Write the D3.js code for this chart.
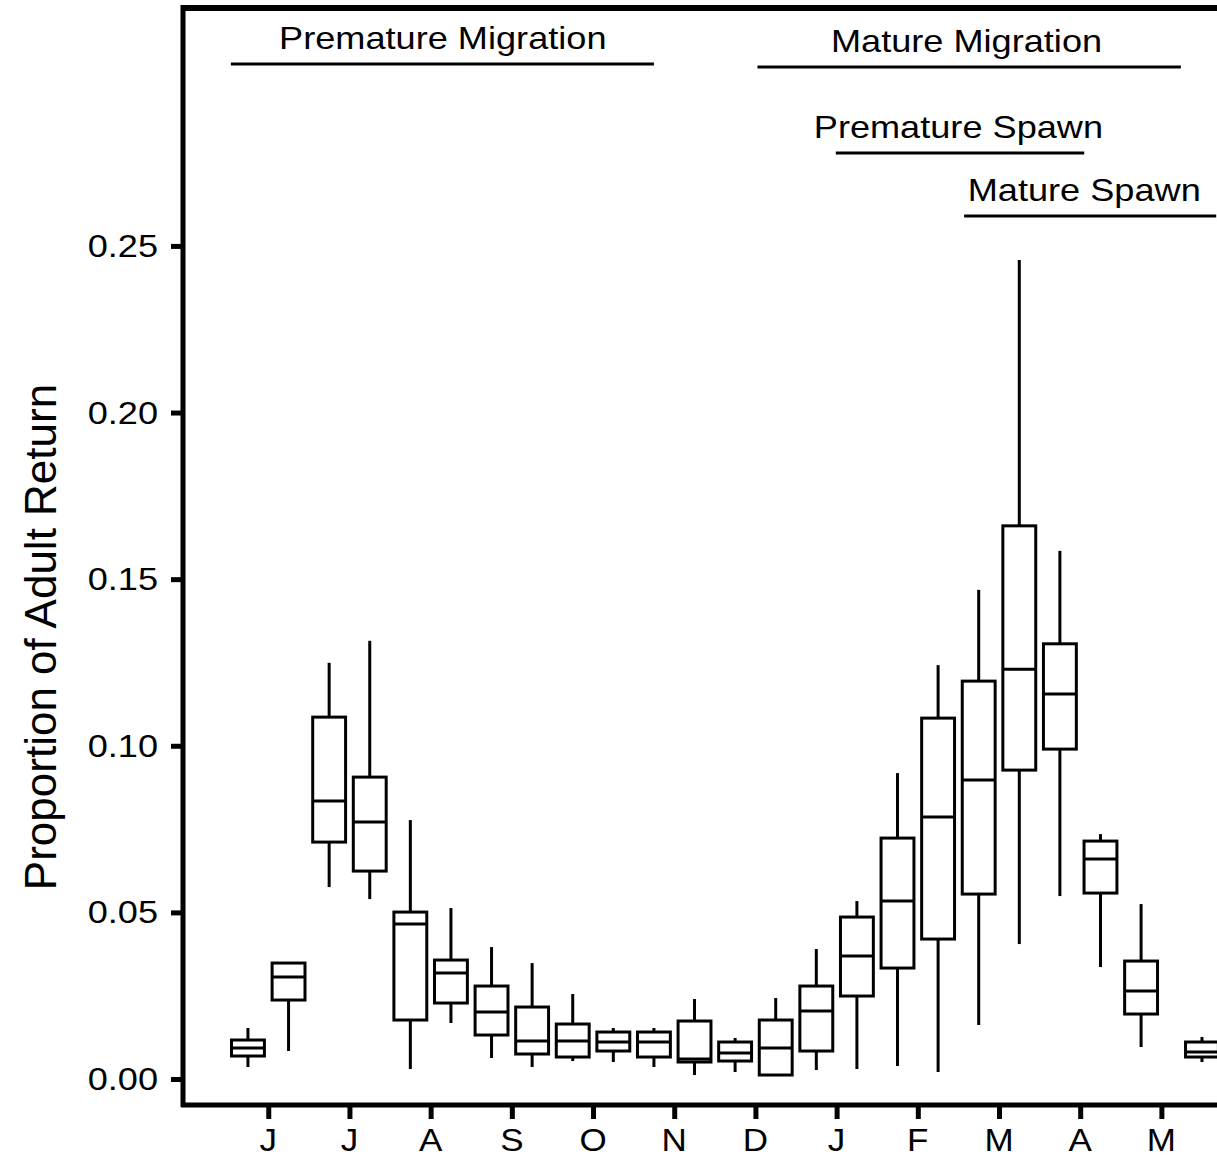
<!DOCTYPE html>
<html><head><meta charset="utf-8">
<script src="https://cdn.jsdelivr.net/npm/d3@7"></script>
<style>html,body{margin:0;padding:0;background:#fff;overflow:hidden}</style>
</head><body>
<svg id="chart" width="1217" height="1158"></svg>
<script>
// ---- data ----
const positions = [0,1,2,3,4,5,6,7,8,9,10,11,12,13,14,15,16,17,18,19,20,21,22,23.5];
const lowerWhisker = [0.0036,0.0084,0.0576,0.0540,0.0030,0.0168,0.0063,0.0036,0.0054,0.0051,0.0036,0.0012,0.0021,0.0012,0.0027,0.0030,0.0039,0.0021,0.0162,0.0405,0.0549,0.0336,0.0096,0.0051];
const q1Values     = [0.0069,0.0237,0.0711,0.0624,0.0177,0.0228,0.0132,0.0075,0.0066,0.0084,0.0066,0.0051,0.0054,0.0012,0.0084,0.0249,0.0333,0.0420,0.0555,0.0927,0.0990,0.0558,0.0195,0.0066];
const medianValues = [0.0093,0.0306,0.0834,0.0771,0.0465,0.0318,0.0201,0.0114,0.0114,0.0111,0.0111,0.0060,0.0078,0.0093,0.0204,0.0369,0.0534,0.0786,0.0897,0.1230,0.1155,0.0660,0.0264,0.0081];
const q3Values     = [0.0117,0.0348,0.1086,0.0906,0.0501,0.0357,0.0279,0.0216,0.0165,0.0141,0.0141,0.0174,0.0111,0.0177,0.0279,0.0486,0.0723,0.1083,0.1194,0.1660,0.1306,0.0714,0.0354,0.0111];
const upperWhisker = [0.0153,0.0348,0.1249,0.1315,0.0777,0.0513,0.0396,0.0348,0.0255,0.0153,0.0153,0.0240,0.0123,0.0243,0.0390,0.0534,0.0918,0.1242,0.1468,0.2458,0.1585,0.0735,0.0525,0.0126];

const monthLabels = ["J","J","A","S","O","N","D","J","F","M","A","M"];
const monthTickPositions = [0.5,2.5,4.5,6.5,8.5,10.5,12.5,14.5,16.5,18.5,20.5,22.5];
const yTickValues = [0,0.05,0.10,0.15,0.20,0.25];

const periodLabels = ["Premature Migration","Mature Migration","Premature Spawn","Mature Spawn"];
const periodStart = [-0.42, 12.55, 14.48, 17.64];
const periodEnd   = [10.0, 22.98, 20.6, 23.85];
const periodLabelCenter = [4.8, 17.7, 17.5, 20.6];
const periodLevel = [0.3046, 0.3037, 0.2779, 0.2590]; // line heights in data units

// ---- layout ----
const svg = d3.select("#chart");
const hs = 1.13; // horizontal text stretch of the original
const x = d3.scaleLinear().domain([-1.6, 23.87]).range([183, 1217]);
const y = d3.scaleLinear().domain([-0.0078, 0.3214]).range([1105, 8]);
const boxW = x(0.81) - x(0);
const font = "'Liberation Sans', Arial, Helvetica, sans-serif";

function stretchedText(g, tx, ty, str, size, anchor) {
  return g.append("text")
    .attr("transform", `translate(${tx},${ty}) scale(${hs},1)`)
    .attr("text-anchor", anchor)
    .attr("font-family", font)
    .attr("font-size", size)
    .attr("fill", "#000")
    .text(str);
}

// boxes
const data = positions.map((p,i)=>({p, lo:lowerWhisker[i], q1:q1Values[i], med:medianValues[i], q3:q3Values[i], hi:upperWhisker[i]}));
const gb = svg.append("g");
data.forEach(d=>{
  const cx = x(d.p);
  gb.append("line").attr("x1",cx).attr("x2",cx).attr("y1",y(d.hi)).attr("y2",y(d.q3))
    .attr("stroke","#000").attr("stroke-width",3);
  gb.append("line").attr("x1",cx).attr("x2",cx).attr("y1",y(d.q1)).attr("y2",y(d.lo))
    .attr("stroke","#000").attr("stroke-width",3);
  gb.append("rect").attr("x",cx-boxW/2).attr("width",boxW)
    .attr("y",y(d.q3)).attr("height",Math.max(0.5,y(d.q1)-y(d.q3)))
    .attr("fill","#fff").attr("stroke","#000").attr("stroke-width",3);
  gb.append("line").attr("x1",cx-boxW/2).attr("x2",cx+boxW/2).attr("y1",y(d.med)).attr("y2",y(d.med))
    .attr("stroke","#000").attr("stroke-width",3);
});

// period annotations
const ga = svg.append("g");
periodLabels.forEach((lab,i)=>{
  const ly = y(periodLevel[i]);
  ga.append("line").attr("x1",x(periodStart[i])).attr("x2",x(periodEnd[i]))
    .attr("y1",ly).attr("y2",ly).attr("stroke","#000").attr("stroke-width",3);
  stretchedText(ga, x(periodLabelCenter[i]), ly-15, lab, 32, "middle");
});

// axes
const yAxis = d3.axisLeft(y).tickValues(yTickValues).tickFormat(d3.format(".2f")).tickSize(12).tickSizeOuter(0);
const gy = svg.append("g").attr("transform","translate(183,0)").call(yAxis);
gy.select(".domain").remove();
gy.selectAll(".tick line").attr("stroke","#000").attr("stroke-width",5);
gy.selectAll(".tick text").remove();
yTickValues.forEach(v=>{
  stretchedText(svg, 158, y(v)+11, d3.format(".2f")(v), 32, "end");
});

const xAxis = d3.axisBottom(x).tickValues(monthTickPositions).tickFormat("").tickSize(14).tickSizeOuter(0);
const gx = svg.append("g").attr("transform","translate(0,1105)").call(xAxis);
gx.select(".domain").remove();
gx.selectAll(".tick line").attr("stroke","#000").attr("stroke-width",5);
monthTickPositions.forEach((p,i)=>{
  stretchedText(svg, x(p), 1151, monthLabels[i], 31, "middle");
});

// frame: left, bottom, top
svg.append("line").attr("x1",183).attr("x2",183).attr("y1",5).attr("y2",1107).attr("stroke","#000").attr("stroke-width",5);
svg.append("line").attr("x1",181).attr("x2",1217).attr("y1",1105).attr("y2",1105).attr("stroke","#000").attr("stroke-width",5);
svg.append("line").attr("x1",181).attr("x2",1217).attr("y1",8).attr("y2",8).attr("stroke","#000").attr("stroke-width",6);

// y axis title
svg.append("text")
  .attr("transform", `translate(56,637) rotate(-90)`)
  .attr("text-anchor","middle").attr("font-family",font).attr("font-size",44)
  .attr("fill","#000").text("Proportion of Adult Return");
</script>
</body></html>
